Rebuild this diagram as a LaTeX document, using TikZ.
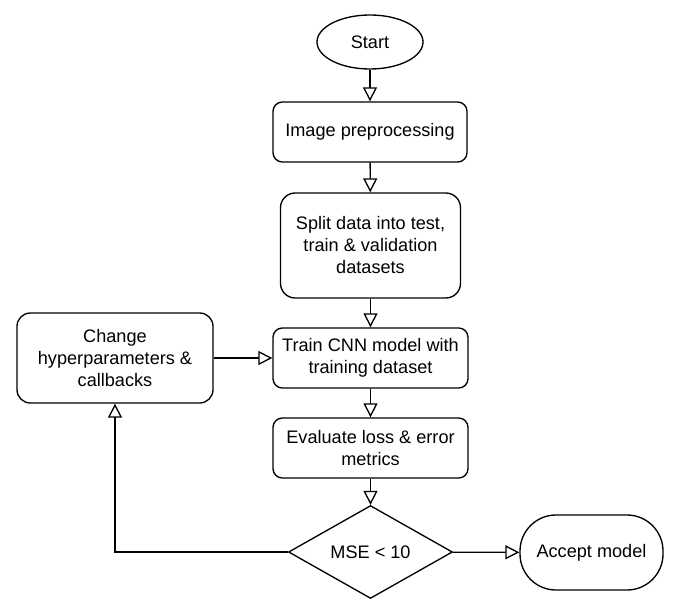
\documentclass[tikz,border=0pt]{standalone}
\usepackage{fontspec}
\setmainfont{Liberation Sans}
\usetikzlibrary{shapes.geometric,arrows.meta}
\begin{document}
\begin{tikzpicture}[x=0.75pt,y=-0.75pt,
  font=\fontsize{13.6}{16.5}\selectfont, line width=1pt,
  box/.style={draw, rounded corners=7pt, align=center, inner sep=0pt},
  arr/.style={-{Triangle[open,length=10.5pt,width=10.5pt]}}]
\useasboundingbox (0,0) rectangle (685,610);
\node[draw, ellipse, minimum width=79.5pt, minimum height=40.5pt, inner sep=0pt] (start) at (370,42) {Start};
\node[box, minimum width=145.5pt, minimum height=45pt] (img) at (370,132) {Image preprocessing};
\node[box, rounded corners=11pt, minimum width=135pt, minimum height=78.75pt] (split) at (370.5,245.5) {Split data into test,\\train \& validation\\datasets};
\node[box, minimum width=146.25pt, minimum height=45pt] (train) at (370.5,358) {Train CNN model with\\training dataset};
\node[box, minimum width=146.25pt, minimum height=45pt] (eval) at (370.5,448) {Evaluate loss \& error\\metrics};
\node[box, rounded corners=10pt, minimum width=147pt, minimum height=67.5pt] (chg) at (115,358) {Change\\hyperparameters \&\\callbacks};
\node[draw, diamond, minimum width=123pt, minimum height=66.75pt, inner sep=0pt] (mse) at (370.5,552) {MSE < 10};
\node[box, rounded corners=27pt, minimum width=107.25pt, minimum height=56.25pt] (acc) at (591.5,552.5) {Accept model};
\draw[arr] (start) -- (img);
\draw[arr] (img) -- (split);
\draw[arr] (split) -- (train);
\draw[arr] (train) -- (eval);
\draw[arr] (eval) -- (mse);
\draw[arr] (chg) -- (train);
\draw[arr] (mse) -- (acc);
\draw[arr] (mse.west) -| (chg.south);
\end{tikzpicture}
\end{document}
